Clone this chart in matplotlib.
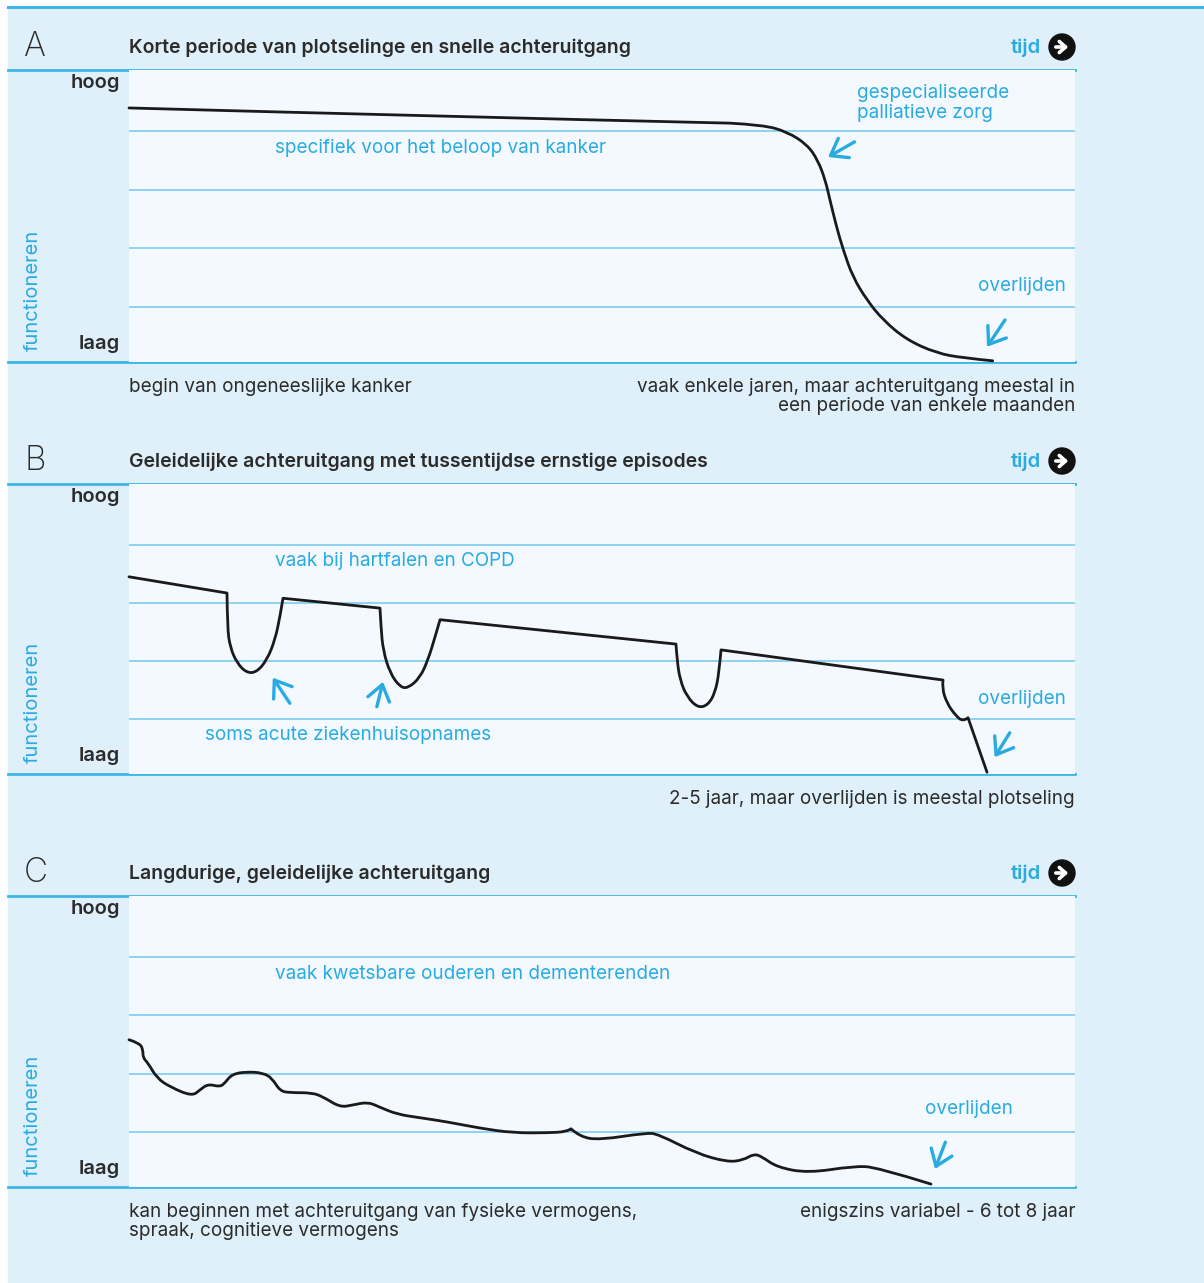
import matplotlib.pyplot as plt
from matplotlib.patches import Rectangle, Circle, PathPatch
from matplotlib.path import Path

plt.rcParams['font.family'] = ['Inter', 'DejaVu Sans']

# kleuren
LIGHT = '#dff0fb'
PALE = '#f3f9fe'
CYAN = '#29abe2'
GRID = '#86d1f1'
SEP = '#3db5e6'
DARK = '#2b2b2b'

W, H = 1204, 1283

# --- data: tijd (0-100) en functioneren (0 = laag, 5 = hoog) ---
# A: kanker
a_t = [0, 31.8, 63.5, 67.0, 69.6, 71.7, 72.8, 73.6, 74.1, 74.8, 75.5, 76.5,
       78.0, 79.7, 82.2, 85.4, 88.2, 91.3]
a_f = [4.35, 4.21, 4.09, 4.06, 3.94, 3.72, 3.46, 3.12, 2.77, 2.31, 1.92, 1.46,
       1.06, 0.72, 0.38, 0.15, 0.07, 0.02]
a_corners = [2]

# B: hartfalen / COPD
b_t = [0, 10.36, 10.4, 10.68, 11.42, 12.47, 13.53, 14.59, 15.43, 15.96, 16.28,
       26.53, 26.64, 26.85, 27.59, 28.65, 29.49, 30.76, 31.61, 32.35, 32.88,
       57.82, 57.93, 58.25, 58.99, 60.15, 61.21, 61.95, 62.37, 62.58,
       86.05, 85.94, 86.47, 87.32, 88.16, 88.69, 90.70]
b_f = [3.40, 3.12, 2.53, 2.19, 1.91, 1.74, 1.76, 1.97, 2.31, 2.71, 3.03,
       2.86, 2.53, 2.14, 1.74, 1.50, 1.48, 1.66, 1.97, 2.36, 2.66,
       2.24, 1.97, 1.62, 1.33, 1.14, 1.19, 1.40, 1.74, 2.14,
       1.62, 1.48, 1.22, 1.02, 0.90, 0.97, 0.03]
b_corners = [1, 10, 11, 20, 21, 29, 30, 35]

# C: kwetsbare ouderen / dementie
c_t = [0, 1.16, 1.48, 1.48, 2.01, 2.96, 4.33, 6.66, 7.51, 8.35, 9.62, 10.15,
       10.89, 12.47, 14.16, 15.12, 15.96, 17.02, 19.34, 20.51, 22.30, 23.68,
       25.26, 26.53, 28.33, 30.76, 33.62, 37.10, 40.59, 44.19, 46.30, 46.72,
       47.67, 49.79, 54.65, 55.92, 59.94, 63.21, 64.90, 66.07, 66.91, 68.50,
       71.78, 76.64, 79.07, 84.78]
c_f = [2.53, 2.47, 2.35, 2.22, 2.13, 1.87, 1.72, 1.56, 1.67, 1.77, 1.72, 1.79,
       1.94, 1.98, 1.96, 1.87, 1.65, 1.62, 1.62, 1.55, 1.37, 1.41,
       1.46, 1.37, 1.25, 1.19, 1.12, 1.01, 0.93, 0.93, 0.95, 1.00,
       0.86, 0.81, 0.93, 0.91, 0.58, 0.43, 0.46, 0.57, 0.52, 0.34,
       0.24, 0.36, 0.34, 0.05]
c_corners = [31]

grid_levels = [0.95, 1.95, 2.95, 3.95]

letters = ['A', 'B', 'C']
titles = ['Korte periode van plotselinge en snelle achteruitgang',
          'Geleidelijke achteruitgang met tussentijdse ernstige episodes',
          'Langdurige, geleidelijke achteruitgang']
left_notes = ['begin van ongeneeslijke kanker', '',
              'kan beginnen met achteruitgang van fysieke vermogens,\nspraak, cognitieve vermogens']
right_notes = ['vaak enkele jaren, maar achteruitgang meestal in\neen periode van enkele maanden',
               '2-5 jaar, maar overlijden is meestal plotseling',
               'enigszins variabel - 6 tot 8 jaar']

# annotaties per paneel: (tekst, t, f)
labels = [
    [('specifiek voor het beloop van kanker', 15.4, 3.66),
     ('gespecialiseerde\npalliatieve zorg', 77.0, 4.43),
     ('overlijden', 89.7, 1.30)],
    [('vaak bij hartfalen en COPD', 15.4, 3.67),
     ('soms acute ziekenhuisopnames', 8.0, 0.67),
     ('overlijden', 89.7, 1.29)],
    [('vaak kwetsbare ouderen en dementerenden', 15.4, 3.66),
     ('overlijden', 84.1, 1.34)],
]
# pijlen: (punt t, punt f, staart t, staart f)
arrows = [
    [(73.9, 3.51, 76.7, 3.77), (90.7, 0.26, 92.6, 0.72)],
    [(15.2, 1.66, 17.0, 1.22), (26.85, 1.59, 26.2, 1.16), (91.5, 0.29, 93.1, 0.71)],
    [(85.2, 0.31, 86.3, 0.77)],
]

curves = [(a_t, a_f, a_corners), (b_t, b_f, b_corners), (c_t, c_f, c_corners)]
panel_px = [(70, 362), (484, 774), (896, 1187)]   # boven / onder in pixels
X0, X1 = 129, 1075
FS = 13.6


def smooth_path(t, f, corners):
    # vloeiende lijn door de punten, scherpe hoeken op 'corners'
    pts = list(zip(t, f))
    cuts = [0] + corners + [len(pts) - 1]
    verts = [pts[0]]
    codes = [Path.MOVETO]
    for a, b in zip(cuts[:-1], cuts[1:]):
        seg = pts[a:b + 1]
        if len(seg) == 2:
            verts.append(seg[1])
            codes.append(Path.LINETO)
            continue
        for k in range(1, len(seg) - 1):
            p, q = seg[k], seg[k + 1]
            end = q if k == len(seg) - 2 else ((p[0] + q[0]) / 2, (p[1] + q[1]) / 2)
            verts += [p, end]
            codes += [Path.CURVE3, Path.CURVE3]
    return Path(verts, codes)


fig = plt.figure(figsize=(W / 100, H / 100), dpi=100)
fig.patch.set_facecolor('white')

bg = fig.add_axes([0, 0, 1, 1])
bg.set_xlim(0, W)
bg.set_ylim(H, 0)
bg.axis('off')
bg.add_patch(Rectangle((8, 7), W - 8, H - 7, color=LIGHT, zorder=0))
bg.plot([8, W], [7, 7], color=SEP, lw=2.2, zorder=1)

for i, (top, bot) in enumerate(panel_px):
    # koprij
    bg.text(24, top - 23, letters[i], fontsize=24, fontweight='light', color=DARK,
            ha='left', va='center')
    bg.text(X0, top - 22, titles[i], fontsize=14, fontweight='semibold', color=DARK,
            ha='left', va='center')
    bg.text(1041, top - 22, 'tijd', fontsize=14.5, fontweight='semibold', color=CYAN,
            ha='right', va='center')
    bg.add_patch(Circle((1062, top - 23), 13, color='#111111', zorder=3))
    bg.annotate('', xy=(1071, top - 23), xytext=(1053, top - 23), zorder=4,
                arrowprops=dict(arrowstyle='->,head_length=0.45,head_width=0.4',
                                color='white', lw=2.6))
    bg.plot([8, X1], [top, top], color=SEP, lw=2.0, zorder=2)
    bg.plot([8, X1], [bot, bot], color=SEP, lw=2.0, zorder=2)

    # as-labels
    bg.text(120, top + 13, 'hoog', fontsize=14.5, fontweight='semibold', color=DARK,
            ha='right', va='center')
    bg.text(120, bot - 18, 'laag', fontsize=14.5, fontweight='semibold', color=DARK,
            ha='right', va='center')
    bg.text(33, bot - 11, 'functioneren', fontsize=14.5, color=CYAN, rotation=90,
            ha='center', va='bottom')

    # onderschriften
    if left_notes[i]:
        bg.text(X0, bot + 16, left_notes[i], fontsize=FS, color=DARK,
                ha='left', va='top', linespacing=1.1)
    bg.text(X1, bot + 16, right_notes[i], fontsize=FS, color=DARK,
            ha='right', va='top', linespacing=1.1, multialignment='right')

    # grafiekvlak
    ax = fig.add_axes([X0 / W, 1 - bot / H, (X1 - X0) / W, (bot - top) / H])
    ax.set_facecolor(PALE)
    ax.set_xlim(0, 100)
    ax.set_ylim(0, 5)
    for s in ax.spines.values():
        s.set_visible(False)
    ax.set_xticks([])
    ax.set_yticks([])
    for g in grid_levels:
        ax.axhline(g, color=GRID, lw=1.3, zorder=1)

    t, f, corners = curves[i]
    ax.add_patch(PathPatch(smooth_path(t, f, corners), facecolor='none',
                           edgecolor='#1a1a1a', lw=2.0, joinstyle='round',
                           capstyle='round', zorder=3, clip_on=False))

    for txt, tx, fy in labels[i]:
        ax.text(tx, fy, txt, fontsize=FS, color=CYAN, ha='left', va='center',
                linespacing=1.12, zorder=4)
    for pt, pf, st, sf in arrows[i]:
        ax.annotate('', xy=(pt, pf), xytext=(st, sf), zorder=4,
                    arrowprops=dict(arrowstyle='->,head_length=0.55,head_width=0.4',
                                    color=CYAN, lw=2.4, mutation_scale=20,
                                    shrinkA=0, shrinkB=0))

fig.savefig('out.png', dpi=100, facecolor=fig.get_facecolor())
